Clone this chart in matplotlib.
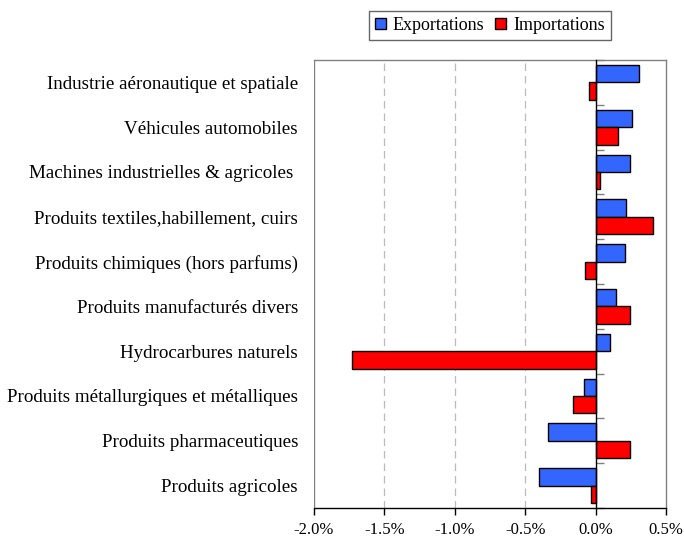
import matplotlib
matplotlib.use("Agg")
import matplotlib.pyplot as plt
from matplotlib.patches import Patch
import matplotlib.transforms as mtransforms
import numpy as np

categories = [
    "Industrie aéronautique et spatiale",
    "Véhicules automobiles",
    "Machines industrielles & agricoles ",
    "Produits textiles,habillement, cuirs",
    "Produits chimiques (hors parfums)",
    "Produits manufacturés divers",
    "Hydrocarbures naturels",
    "Produits métallurgiques et métalliques",
    "Produits pharmaceutiques",
    "Produits agricoles",
]
exportations = [0.305, 0.26, 0.241, 0.217, 0.208, 0.144, 0.104, -0.085, -0.34, -0.40]
importations = [-0.045, 0.156, 0.028, 0.41, -0.076, 0.241, -1.729, -0.161, 0.241, -0.033]
xticks = [-2.0, -1.5, -1.0, -0.5, 0.0, 0.5]
xtick_labels = ["-2.0%", "-1.5%", "-1.0%", "-0.5%", "0.0%", "0.5%"]

plt.rcParams['font.family'] = ['Liberation Serif', 'DejaVu Serif']

fig = plt.figure(figsize=(6.84, 5.37), dpi=100)
ax = fig.add_axes([314/684, 1-508/537, (666-314)/684, (508-60)/537])

n = len(categories)
ypos = np.arange(n)[::-1].astype(float)
h = 0.39
blue = '#3366FF'
red = '#FF0000'
ax.barh(ypos + h/2, exportations, height=h, color=blue, edgecolor='black', linewidth=1.0, zorder=3)
ax.barh(ypos - h/2, importations, height=h, color=red, edgecolor='black', linewidth=1.0, zorder=3)

ax.set_xlim(-2.0, 0.5)
ax.set_ylim(-0.5, n - 0.5)

# gridlines
for g in [-1.5, -1.0, -0.5]:
    ax.axvline(g, color='#bbbbbb', linestyle=(0, (6, 4)), linewidth=0.9, zorder=1)

# spines
ax.spines['left'].set_position(('data', 0))
ax.spines['left'].set_color('black')
ax.spines['left'].set_linewidth(1.0)
ax.spines['left'].set_zorder(4)
for s in ['top', 'right']:
    ax.spines[s].set_color('#808080')
    ax.spines[s].set_linewidth(1.0)
ax.spines['bottom'].set_color('black')
ax.spines['bottom'].set_linewidth(1.0)
ax.axvline(-2.0, color='#808080', linewidth=1.0, zorder=2)

# y ticks at boundaries
ax.set_yticks(np.arange(n + 1) - 0.5)
ax.set_yticklabels([])
ax.tick_params(axis='y', direction='in', length=6, color='#808080', width=1.0)

trans = mtransforms.blended_transform_factory(ax.transAxes, ax.transData)
offset = mtransforms.ScaledTranslation(0, -2/100, fig.dpi_scale_trans)
for cat, y in zip(categories, ypos):
    ax.text(-16/352, y, cat, transform=trans + offset, ha='right', va='center', fontsize=13.7)

ax.set_xticks(xticks)
ax.set_xticklabels(xtick_labels, fontsize=12)
ax.tick_params(axis='x', direction='out', length=5, width=1.0, color='black', pad=5)

handles = [Patch(facecolor=blue, edgecolor='black', label='Exportations'),
           Patch(facecolor=red, edgecolor='black', label='Importations')]
leg = fig.legend(handles=handles, loc='center', bbox_to_anchor=(490/684, 1-25.5/537), ncol=2,
                 fontsize=13, frameon=True, fancybox=False, handlelength=0.6, handleheight=0.6,
                 handletextpad=0.4, columnspacing=0.6, borderpad=0.35, borderaxespad=0)
leg.get_frame().set_edgecolor('#404040')
leg.get_frame().set_linewidth(1.0)

fig.savefig('out.png', dpi=100)
